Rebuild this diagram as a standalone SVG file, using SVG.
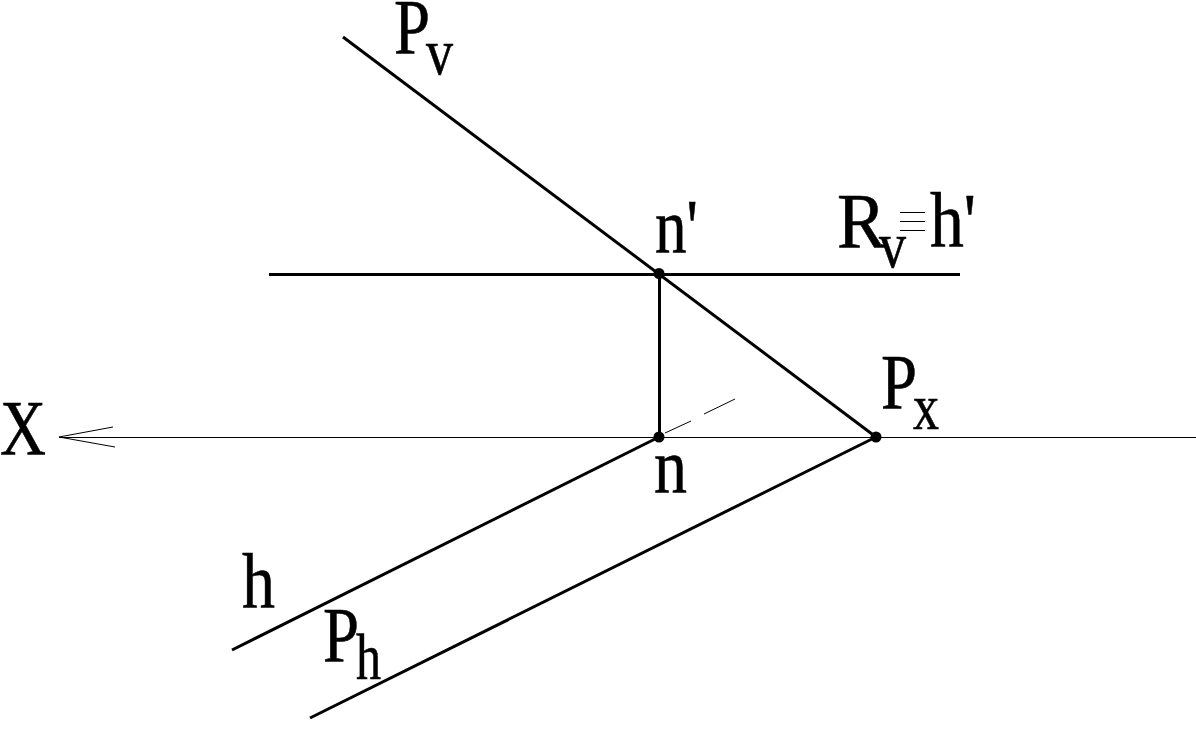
<svg xmlns="http://www.w3.org/2000/svg" width="1196" height="742" viewBox="0 0 1196 742">
<style>
.t{font-family:"Liberation Serif","Times New Roman",serif;fill:#000;stroke:#000;stroke-width:.6}
.b{font-size:79px}
.s{font-size:66px}
.m{stroke:#000;stroke-width:3;fill:none}
.f{stroke:#000;stroke-width:1;fill:none}
</style>
<rect width="1196" height="742" fill="#fff"/>
<g id="connectors">
<path class="m" d="M343 37L876 437"/>
<path class="m" d="M269 274.500H960"/>
<path class="m" d="M659.500 273V437"/>
<path class="f" d="M59 437.500H1196"/>
<path class="f" d="M59 437L113 427M59 437L115 447"/>
<path class="m" d="M659 437L232 650"/>
<path class="m" d="M876 437L310 718"/>
<path class="f" d="M665 433L691 421M704 414L735 399"/>
<path class="f" d="M900 212.500H925M900 221.500H925M900 230.500H925"/>
</g>
<g id="node-nprime"><circle cx="659" cy="273.500" r="5.500"/><text class="t b" x="655" y="253" textLength="43" lengthAdjust="spacingAndGlyphs">n'</text></g>
<g id="node-n"><circle cx="659" cy="437" r="5.500"/><text class="t b" x="654" y="493" textLength="33" lengthAdjust="spacingAndGlyphs">n</text></g>
<g id="node-px"><circle cx="876" cy="437" r="5.500"/><text class="t b" x="881" y="408" textLength="36" lengthAdjust="spacingAndGlyphs">P</text><text class="t s" x="913" y="429" textLength="26" lengthAdjust="spacingAndGlyphs">x</text></g>
<g id="label-pv"><text class="t b" x="394" y="53" textLength="36" lengthAdjust="spacingAndGlyphs">P</text><text class="t s" x="426" y="74" textLength="27" lengthAdjust="spacingAndGlyphs">v</text></g>
<g id="label-rv"><text class="t b" x="837" y="247" textLength="49" lengthAdjust="spacingAndGlyphs">R</text><text class="t s" x="879" y="267" textLength="27" lengthAdjust="spacingAndGlyphs">v</text><text class="t b" x="930" y="247" textLength="46" lengthAdjust="spacingAndGlyphs">h'</text></g>
<g id="label-x"><text class="t b" x="0" y="454" textLength="46" lengthAdjust="spacingAndGlyphs">X</text></g>
<g id="label-h"><text class="t b" x="242" y="608" textLength="33" lengthAdjust="spacingAndGlyphs">h</text></g>
<g id="label-ph"><text class="t b" x="323" y="661" textLength="36" lengthAdjust="spacingAndGlyphs">P</text><text class="t s" x="356" y="679" textLength="25" lengthAdjust="spacingAndGlyphs">h</text></g>
</svg>
